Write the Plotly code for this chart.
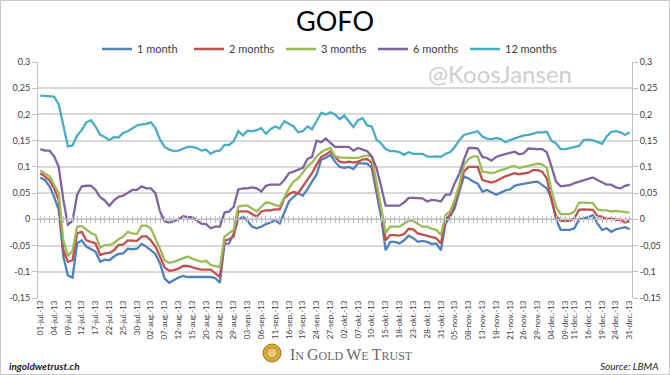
import pandas as pd
import plotly.graph_objects as go

# ---------------- data ----------------
MONTHS_NL = {7: "jul", 8: "aug", 9: "sep", 10: "okt", 11: "nov", 12: "dec"}
holidays = ["2013-08-26", "2013-12-25", "2013-12-26"]
trading_days = [d for d in pd.bdate_range("2013-07-01", "2013-12-31")
                if d.strftime("%Y-%m-%d") not in holidays]
categories = [f"{d.day:02d}-{MONTHS_NL[d.month]}.-13" for d in trading_days]

x_tick_labels = ["01-jul.-13", "04-jul.-13", "09-jul.-13", "12-jul.-13", "17-jul.-13", "22-jul.-13",
                 "25-jul.-13", "30-jul.-13", "02-aug.-13", "07-aug.-13", "12-aug.-13", "15-aug.-13",
                 "20-aug.-13", "23-aug.-13", "29-aug.-13", "03-sep.-13", "06-sep.-13", "11-sep.-13",
                 "16-sep.-13", "19-sep.-13", "24-sep.-13", "27-sep.-13", "02-okt.-13", "07-okt.-13",
                 "10-okt.-13", "15-okt.-13", "18-okt.-13", "23-okt.-13", "28-okt.-13", "31-okt.-13",
                 "05-nov.-13", "08-nov.-13", "13-nov.-13", "18-nov.-13", "21-nov.-13", "26-nov.-13",
                 "29-nov.-13", "04-dec.-13", "09-dec.-13", "11-dec.-13", "16-dec.-13", "19-dec.-13",
                 "24-dec.-13", "31-dec.-13"]

y_tick_vals = [-0.15, -0.1, -0.05, 0, 0.05, 0.1, 0.15, 0.2, 0.25, 0.3]
y_tick_text = ["-0,15", "-0,1", "-0,05", "0", "0,05", "0,1", "0,15", "0,2", "0,25", "0,3"]

gofo_1m = [0.080, 0.075, 0.063, 0.043, 0.018, -0.071, -0.107, -0.111, -0.046, -0.040,
           -0.052, -0.057, -0.062, -0.081, -0.077, -0.078, -0.071, -0.066, -0.065, -0.056,
           -0.057, -0.056, -0.047, -0.052, -0.059, -0.066, -0.084, -0.113, -0.121, -0.116,
           -0.111, -0.108, -0.110, -0.110, -0.110, -0.111, -0.111, -0.110, -0.112, -0.121,
           -0.047, -0.046, -0.027, -0.001, 0.005, -0.003, -0.014, -0.017, -0.014, -0.009,
           -0.006, -0.002, -0.008, 0.015, 0.034, 0.043, 0.050, 0.045, 0.057, 0.072,
           0.085, 0.114, 0.117, 0.123, 0.110, 0.100, 0.098, 0.100, 0.096, 0.107,
           0.107, 0.106, 0.098, 0.050, 0.005, -0.059, -0.043, -0.043, -0.046, -0.040,
           -0.031, -0.036, -0.043, -0.041, -0.043, -0.047, -0.046, -0.059, -0.008, 0.005,
           0.021, 0.053, 0.082, 0.078, 0.072, 0.068, 0.053, 0.056, 0.051, 0.047,
           0.051, 0.055, 0.057, 0.064, 0.066, 0.068, 0.070, 0.071, 0.072, 0.066,
           0.059, 0.040, 0.000, -0.020, -0.020, -0.020, -0.017, 0.000, 0.002, 0.004,
           0.008, -0.008, -0.020, -0.017, -0.024, -0.019, -0.017, -0.015, -0.019]

gofo_2m = [0.088, 0.082, 0.074, 0.059, 0.037, -0.059, -0.081, -0.078, -0.027, -0.024,
           -0.040, -0.043, -0.046, -0.068, -0.065, -0.064, -0.059, -0.049, -0.048, -0.040,
           -0.041, -0.041, -0.033, -0.032, -0.040, -0.052, -0.071, -0.092, -0.098, -0.097,
           -0.094, -0.089, -0.089, -0.092, -0.094, -0.096, -0.096, -0.096, -0.103, -0.110,
           -0.041, -0.038, -0.033, 0.015, 0.015, 0.015, 0.010, 0.005, 0.015, 0.017,
           0.017, 0.019, 0.019, 0.040, 0.048, 0.052, 0.050, 0.063, 0.074, 0.088,
           0.104, 0.119, 0.123, 0.130, 0.119, 0.110, 0.108, 0.110, 0.108, 0.110,
           0.114, 0.115, 0.107, 0.061, 0.018, -0.040, -0.030, -0.030, -0.031, -0.028,
           -0.018, -0.019, -0.027, -0.029, -0.031, -0.034, -0.036, -0.046, 0.000, 0.008,
           0.029, 0.059, 0.091, 0.100, 0.100, 0.100, 0.075, 0.073, 0.070, 0.073,
           0.078, 0.082, 0.085, 0.088, 0.086, 0.087, 0.089, 0.094, 0.094, 0.091,
           0.078, 0.037, 0.006, -0.003, -0.003, -0.003, 0.002, 0.018, 0.019, 0.019,
           0.018, 0.006, 0.005, 0.000, 0.002, -0.001, -0.001, -0.006, -0.003]

gofo_3m = [0.093, 0.088, 0.082, 0.066, 0.050, -0.040, -0.070, -0.060, -0.014, -0.013,
           -0.020, -0.026, -0.030, -0.054, -0.049, -0.049, -0.045, -0.038, -0.033, -0.024,
           -0.027, -0.028, -0.012, -0.012, -0.017, -0.036, -0.056, -0.078, -0.083, -0.081,
           -0.078, -0.075, -0.071, -0.075, -0.078, -0.081, -0.079, -0.087, -0.089, -0.091,
           -0.033, -0.027, -0.020, 0.024, 0.026, 0.026, 0.021, 0.015, 0.024, 0.032,
           0.031, 0.027, 0.025, 0.043, 0.059, 0.072, 0.078, 0.089, 0.101, 0.108,
           0.120, 0.128, 0.133, 0.136, 0.120, 0.118, 0.117, 0.117, 0.117, 0.117,
           0.120, 0.122, 0.119, 0.072, 0.027, -0.025, -0.014, -0.014, -0.014, -0.008,
           -0.003, -0.003, -0.009, -0.014, -0.014, -0.018, -0.020, -0.030, 0.008, 0.015,
           0.037, 0.066, 0.104, 0.115, 0.120, 0.120, 0.091, 0.089, 0.088, 0.090,
           0.094, 0.096, 0.100, 0.102, 0.098, 0.100, 0.102, 0.105, 0.106, 0.105,
           0.098, 0.056, 0.024, 0.010, 0.010, 0.010, 0.015, 0.032, 0.032, 0.032,
           0.031, 0.019, 0.017, 0.017, 0.015, 0.016, 0.015, 0.013, 0.013]

gofo_6m = [0.134, 0.131, 0.131, 0.120, 0.100, 0.037, -0.010, -0.003, 0.047, 0.063,
           0.064, 0.064, 0.056, 0.042, 0.036, 0.026, 0.036, 0.043, 0.045, 0.051,
           0.056, 0.056, 0.063, 0.059, 0.059, 0.050, 0.015, -0.004, -0.006, -0.004,
           0.000, 0.006, 0.004, 0.004, -0.003, -0.008, -0.009, -0.017, -0.014, -0.014,
           0.013, 0.015, 0.024, 0.057, 0.059, 0.059, 0.061, 0.059, 0.053, 0.064,
           0.066, 0.066, 0.066, 0.075, 0.088, 0.091, 0.094, 0.098, 0.115, 0.119,
           0.150, 0.147, 0.154, 0.145, 0.138, 0.138, 0.138, 0.138, 0.131, 0.136,
           0.133, 0.130, 0.120, 0.098, 0.063, 0.026, 0.026, 0.026, 0.026, 0.032,
           0.041, 0.041, 0.041, 0.040, 0.034, 0.037, 0.036, 0.034, 0.047, 0.047,
           0.069, 0.087, 0.114, 0.136, 0.136, 0.135, 0.119, 0.117, 0.112, 0.119,
           0.122, 0.124, 0.126, 0.129, 0.124, 0.126, 0.135, 0.134, 0.134, 0.134,
           0.128, 0.101, 0.072, 0.063, 0.064, 0.065, 0.069, 0.072, 0.074, 0.077,
           0.080, 0.075, 0.070, 0.066, 0.066, 0.061, 0.059, 0.064, 0.066]

gofo_12m = [0.236, 0.235, 0.235, 0.234, 0.219, 0.177, 0.139, 0.141, 0.160, 0.170,
            0.185, 0.189, 0.177, 0.161, 0.157, 0.151, 0.157, 0.156, 0.165, 0.168,
            0.174, 0.179, 0.181, 0.182, 0.185, 0.174, 0.152, 0.138, 0.133, 0.130,
            0.131, 0.134, 0.138, 0.138, 0.136, 0.131, 0.133, 0.125, 0.130, 0.131,
            0.142, 0.142, 0.149, 0.168, 0.160, 0.169, 0.168, 0.170, 0.174, 0.163,
            0.172, 0.177, 0.173, 0.187, 0.182, 0.177, 0.166, 0.168, 0.177, 0.172,
            0.187, 0.203, 0.200, 0.204, 0.200, 0.191, 0.198, 0.187, 0.176, 0.189,
            0.193, 0.179, 0.177, 0.152, 0.145, 0.134, 0.130, 0.130, 0.128, 0.123,
            0.128, 0.125, 0.125, 0.125, 0.120, 0.119, 0.120, 0.119, 0.125, 0.128,
            0.138, 0.151, 0.161, 0.163, 0.165, 0.168, 0.158, 0.154, 0.153, 0.155,
            0.153, 0.147, 0.151, 0.154, 0.157, 0.160, 0.161, 0.163, 0.166, 0.166,
            0.167, 0.150, 0.145, 0.134, 0.134, 0.136, 0.138, 0.140, 0.151, 0.152,
            0.151, 0.147, 0.144, 0.158, 0.167, 0.168, 0.166, 0.161, 0.166]

series_names = ["1 month", "2 months", "3 months", "6 months", "12 months"]
series_values = [gofo_1m, gofo_2m, gofo_3m, gofo_6m, gofo_12m]
series_colors = ["#4F81BD", "#C0504D", "#9BBB59", "#8064A2", "#4BACC6"]

# ---------------- layout constants ----------------
W, H = 670, 375
L, R, T, B = 38, 38, 62, 77
PW, PH = W - L - R, H - T - B
Y_RANGE = [-0.15, 0.3]
FONT = "Lato, 'Open Sans', sans-serif"
AXIS_GRAY = "#bfbfbf"
GRID_GRAY = "#d9d9d9"
TEXT_GRAY = "#404040"


def px_x(px):
    return (px - L) / PW


def px_y(py):
    return (H - B - py) / PH


fig = go.Figure()
for name, vals, col in zip(series_names, series_values, series_colors):
    fig.add_trace(go.Scatter(x=categories, y=vals, name=name, mode="lines",
                             line=dict(color=col, width=2.3)))

zero_pos = (0 - Y_RANGE[0]) / (Y_RANGE[1] - Y_RANGE[0])

fig.update_layout(
    width=W, height=H,
    margin=dict(l=L, r=R, t=T, b=B, autoexpand=False),
    paper_bgcolor="white", plot_bgcolor="white",
    font=dict(family=FONT, color=TEXT_GRAY),
    title=dict(text="GOFO", x=0.5, xanchor="center", y=1 - 22 / H, yanchor="middle",
               font=dict(family=FONT, size=27, color="#000000")),
    showlegend=True,
    legend=dict(orientation="h", x=px_x(97), xanchor="left", y=px_y(49), yanchor="middle",
                font=dict(size=11, color=TEXT_GRAY), bgcolor="rgba(0,0,0,0)",
                entrywidth=47, entrywidthmode="pixels", itemwidth=30,
                tracegroupgap=0),
    xaxis=dict(type="category", categoryorder="array", categoryarray=categories,
               range=[-0.5, len(categories) - 0.5],
               tickmode="array", tickvals=x_tick_labels, ticktext=x_tick_labels,
               tickangle=-90, tickfont=dict(size=8, color=TEXT_GRAY),
               showgrid=False, showline=False, ticks="", zeroline=False),
    xaxis2=dict(type="category", categoryorder="array", categoryarray=categories,
                range=[-0.5, len(categories) - 0.5], overlaying="x", anchor="free",
                position=zero_pos, side="bottom", showline=True, linecolor=AXIS_GRAY,
                linewidth=1, tickmode="array", tickvals=categories, ticks="outside",
                ticklen=3, tickcolor=AXIS_GRAY, tickwidth=1,
                showticklabels=False, showgrid=False, zeroline=False),
    xaxis3=dict(type="category", categoryorder="array", categoryarray=categories,
                range=[-0.5, len(categories) - 0.5], overlaying="x", anchor="free",
                position=zero_pos, side="bottom", showline=False,
                tickmode="array", tickvals=categories, ticks="inside",
                ticklen=3, tickcolor=AXIS_GRAY, tickwidth=1,
                showticklabels=False, showgrid=False, zeroline=False),
    yaxis=dict(range=Y_RANGE, tickmode="array", tickvals=y_tick_vals, ticktext=y_tick_text,
               tickfont=dict(size=9, color=TEXT_GRAY), showgrid=True, gridcolor=GRID_GRAY,
               gridwidth=1.6, showline=True, linecolor=AXIS_GRAY, linewidth=1,
               ticks="outside", ticklen=5, tickcolor=AXIS_GRAY, zeroline=False),
    yaxis2=dict(range=Y_RANGE, overlaying="y", side="right", anchor="x",
                tickmode="array", tickvals=y_tick_vals, ticktext=y_tick_text,
                tickfont=dict(size=9, color=TEXT_GRAY), showgrid=False,
                showline=True, linecolor=AXIS_GRAY, linewidth=1,
                ticks="outside", ticklen=5, tickcolor=AXIS_GRAY, zeroline=False),
)

# invisible helpers to keep the overlay axes alive
fig.add_trace(go.Scatter(x=[categories[0]], y=[None], xaxis="x2", yaxis="y2",
                         showlegend=False, hoverinfo="skip"))
fig.add_trace(go.Scatter(x=[categories[0]], y=[None], xaxis="x3", yaxis="y",
                         showlegend=False, hoverinfo="skip"))

annotations = [
    dict(text="@KoosJansen", x=px_x(500), y=px_y(73), xref="paper", yref="paper",
         showarrow=False, font=dict(family=FONT, size=24, color="#cfcfcf"),
         xanchor="center", yanchor="middle"),
    dict(text="<i><b>ingoldwetrust.ch</b></i>", x=px_x(7), y=px_y(366), xref="paper", yref="paper",
         showarrow=False, font=dict(family=FONT, size=10, color="#222222"),
         xanchor="left", yanchor="middle"),
    dict(text="<i>Source: LBMA</i>", x=px_x(661), y=px_y(366), xref="paper", yref="paper",
         showarrow=False, font=dict(family=FONT, size=10, color="#222222"),
         xanchor="right", yanchor="middle"),
    dict(text="<span style='font-size:16px'>I</span><span style='font-size:12px'>N </span>"
              "<span style='font-size:16px'>G</span><span style='font-size:12px'>OLD </span>"
              "<span style='font-size:16px'>W</span><span style='font-size:12px'>E </span>"
              "<span style='font-size:16px'>T</span><span style='font-size:12px'>RUST</span>",
         x=px_x(288), y=px_y(354), xref="paper", yref="paper", showarrow=False,
         font=dict(family="'Liberation Serif', 'DejaVu Serif', serif", size=14, color="#6a6a6a"),
         xanchor="left", yanchor="middle"),
]
fig.update_layout(annotations=annotations)

shapes = [
    dict(type="circle", xref="paper", yref="paper",
         x0=px_x(263), x1=px_x(281), y0=px_y(362), y1=px_y(344),
         fillcolor="#d4a93a", line=dict(color="#9c7420", width=1)),
    dict(type="circle", xref="paper", yref="paper",
         x0=px_x(267), x1=px_x(277), y0=px_y(358), y1=px_y(348),
         fillcolor="#e9cd72", line=dict(color="#b0862a", width=0.8)),
    dict(type="rect", xref="paper", yref="paper",
         x0=px_x(0.5), x1=px_x(W - 0.5), y0=px_y(H - 0.5), y1=px_y(0.5),
         line=dict(color="#c8c8c8", width=1), fillcolor="rgba(0,0,0,0)", layer="below"),
]
fig.update_layout(shapes=shapes)

fig.write_html("out.html", config={"displayModeBar": False},
               post_script="document.body.style.margin='0';document.body.style.overflow='hidden';")
